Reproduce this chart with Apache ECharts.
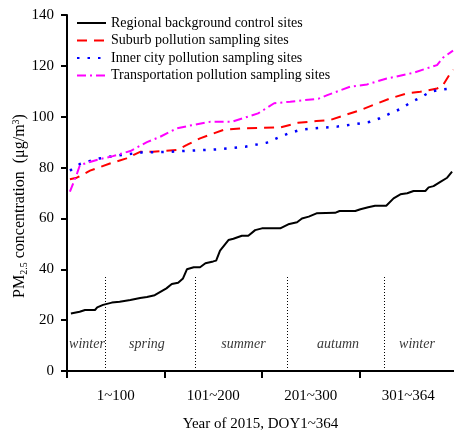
<!DOCTYPE html>
<html>
<head>
<meta charset="utf-8">
<script src="https://cdn.jsdelivr.net/npm/echarts@6/dist/echarts.min.js"></script>
<style>
  html, body { margin: 0; padding: 0; background: #fff; }
  #main { width: 454px; height: 432px; }
</style>
</head>
<body>
<div id="main"></div>
<script>
// series names (legend)
const seriesNames = [
  'Regional background control sites',
  'Suburb pollution sampling sites',
  'Inner city pollution sampling sites',
  'Transportation pollution sampling sites'
];

// [day position, PM2.5]
const regional = [
  [4, 22.6], [5, 23.3], [13, 23.3], [18.5, 24], [28.7, 24], [31, 25], [37, 26], [46, 26.9],
  [54, 27.2], [65, 27.9], [75, 28.7], [82, 29.1], [90, 29.8], [102, 32.5], [107.5, 34.2],
  [114, 34.7], [119, 36.4], [123, 40], [130, 40.8], [136.5, 40.8], [142, 42.4], [150, 43.1],
  [153, 43.4], [157, 47.3], [165.6, 51.5], [170.7, 52], [179.4, 53.2], [186, 53.2],
  [193, 55.4], [200, 56.1], [218.7, 56.1], [227, 57.7], [236, 58.5], [241, 60], [248, 60.7],
  [256, 62], [275, 62.2], [279.6, 62.9], [295.7, 62.9], [301, 63.6], [309, 64.4], [316, 65],
  [327.5, 65], [335, 67.9], [342, 69.5], [349, 69.9], [355.5, 70.8], [367.6, 70.8],
  [371, 72.2], [376, 72.7], [383, 74.4], [390, 76], [395, 78.4]
];
const suburb = [
  [3, 75.4], [10, 76], [23.6, 78.8], [44, 81.6], [61, 83.6], [75, 86.2], [88, 86.2],
  [112.6, 86.9], [123, 88.9], [136.5, 91.5], [160.5, 94.8], [177.6, 95.4], [218.7, 95.8],
  [237, 97.6], [256, 98.3], [270, 98.7], [300.8, 102.6], [331.6, 107.2], [348.8, 109.2],
  [362.4, 109.8], [379.6, 111.1], [385, 112], [391.5, 116], [396.3, 118.5]
];
const innerCity = [
  [3, 78.8], [13.3, 81.4], [30.5, 83.4], [47.5, 84.5], [61, 85.2], [78, 86], [102, 86.1],
  [123, 86.6], [157, 87.2], [183, 88.2], [205, 89.8], [215, 91.5], [227, 93.4], [239, 94.8],
  [253, 95.4], [277, 96.1], [301, 97.4], [311, 98], [321, 99.4], [331.6, 101.3],
  [343.6, 103.3], [352, 105.5], [362.4, 107.5], [372.7, 109.8], [383, 110.6], [396.3, 111.2]
];
const transport = [
  [3, 70.5], [10.6, 78], [13.3, 81], [30.5, 83], [47, 84.5], [65, 86.5], [82, 90],
  [95.5, 92.1], [112.6, 95.4], [126, 96.5], [147, 98], [169, 98], [196, 101.3],
  [212.5, 105.3], [229, 105.9], [258, 107.1], [267, 108.5], [290.5, 111.8], [307.7, 112.7],
  [328, 115], [355.5, 117.3], [379.6, 120.3], [386, 123.3], [396, 126]
];

// x-axis tick labels (centred in each 100-day block)
const xTickValues = [0, 100, 200, 300];
const xLabelValues = [50, 150, 250, 350];
const xLabels = ['1~100', '101~200', '201~300', '301~364'];

// season dividers and labels
const seasonBreaks = [39, 131.4, 226, 325.5];
const seasonTop = 37;
const seasons = [
  ['winter', 20.5], ['spring', 82], ['summer', 181], ['autumn', 278], ['winter', 359]
];
const seasonLabelY = 10.5;

const serif = '"Liberation Serif", "Times New Roman", serif';

const chart = echarts.init(document.getElementById('main'));

const option = {
  animation: false,
  textStyle: { fontFamily: serif, color: '#000' },
  grid: { left: 67, right: 0, top: 15, bottom: 61, containLabel: false, outerBoundsMode: 'none' },
  legend: {
    orient: 'vertical',
    left: 71,
    top: 11,
    itemWidth: 29,
    itemHeight: 14,
    itemGap: 3.5,
    data: seriesNames,
    itemStyle: { opacity: 0 },
    textStyle: { fontFamily: serif, fontSize: 14, color: '#000' }
  },
  xAxis: {
    type: 'value',
    min: 0,
    max: 397,
    interval: 100,
    name: 'Year of 2015, DOY1~364',
    nameLocation: 'middle',
    nameGap: 46,
    nameMoveOverlap: false,
    nameTextStyle: { fontFamily: serif, fontSize: 15, color: '#000' },
    splitLine: { show: false },
    axisLine: { lineStyle: { color: '#000', width: 2 } },
    axisTick: {
      show: true, length: 7, inside: false,
      lineStyle: { color: '#000', width: 2 },
      customValues: xTickValues
    },
    axisLabel: {
      fontFamily: serif, fontSize: 15, color: '#000', margin: 18,
      customValues: xLabelValues,
      formatter: v => xLabels[xLabelValues.indexOf(v)] || ''
    }
  },
  yAxis: {
    type: 'value',
    min: 0,
    max: 140,
    interval: 20,
    name: '{a|PM}{sub|2.5}{a| concentration  (μg/m}{sup|3}{a|)}',
    nameLocation: 'middle',
    nameGap: 38,
    nameMoveOverlap: false,
    nameRotate: 90,
    nameTextStyle: {
      fontFamily: serif, fontSize: 16, color: '#000',
      padding: [0, 26, 0, 0],
      rich: {
        a: { fontFamily: serif, fontSize: 16, color: '#000', lineHeight: 18, verticalAlign: 'middle' },
        sub: { fontFamily: serif, fontSize: 10, color: '#000', lineHeight: 18, verticalAlign: 'bottom' },
        sup: { fontFamily: serif, fontSize: 10, color: '#000', lineHeight: 18, verticalAlign: 'top' }
      }
    },
    splitLine: { show: false },
    axisLine: { show: true, lineStyle: { color: '#000', width: 2 } },
    axisTick: { show: true, length: 6, lineStyle: { color: '#000', width: 2 } },
    axisLabel: { fontFamily: serif, fontSize: 15, color: '#000', margin: 13 }
  },
  series: [
    {
      name: seriesNames[0], type: 'line', data: regional, symbol: 'none',
      lineStyle: { color: '#000', width: 2, type: 'solid' }, itemStyle: { color: '#000' }
    },
    {
      name: seriesNames[1], type: 'line', data: suburb, symbol: 'none',
      lineStyle: { color: '#ff0000', width: 2, type: [10, 7] }, itemStyle: { color: '#ff0000' }
    },
    {
      name: seriesNames[2], type: 'line', data: innerCity, symbol: 'none',
      lineStyle: { color: '#0000ff', width: 2.5, type: [2.5, 8] }, itemStyle: { color: '#0000ff' }
    },
    {
      name: seriesNames[3], type: 'line', data: transport, symbol: 'none',
      lineStyle: { color: '#ff00ff', width: 2, type: [9, 4, 2, 4] }, itemStyle: { color: '#ff00ff' }
    },
    {
      name: 'seasons', type: 'scatter', symbolSize: 0, silent: true,
      data: seasons.map(s => ({ value: [s[1], seasonLabelY], name: s[0] })),
      label: {
        show: true, position: 'inside', formatter: p => p.name,
        fontFamily: serif, fontStyle: 'italic', fontSize: 14, color: '#000'
      },
      markLine: {
        silent: true, symbol: 'none', animation: false,
        label: { show: false },
        lineStyle: { color: '#000', width: 1, type: [1, 2] },
        data: seasonBreaks.map(x => [{ coord: [x, 0] }, { coord: [x, seasonTop] }])
      }
    }
  ]
};

option && chart.setOption(option);
</script>
</body>
</html>
